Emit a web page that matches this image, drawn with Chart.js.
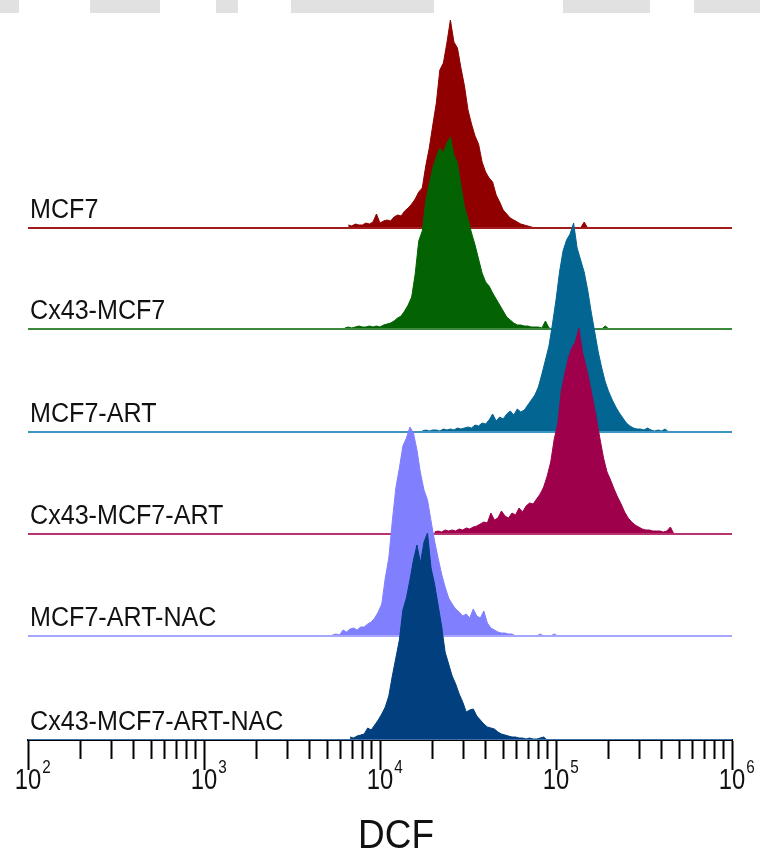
<!DOCTYPE html>
<html>
<head>
<meta charset="utf-8">
<script src="https://cdn.jsdelivr.net/npm/chart.js"></script>
<style>
    html, body { margin: 0; padding: 0; background: #fff; }
    #wrap { position: relative; width: 760px; height: 852px; }
    /* grey watermark strip along the top edge */
    #band {
        position: absolute; left: 0; top: 0; width: 760px; height: 13px;
        background: linear-gradient(to right,
            #e1e1e1 0 19px, #fff 19px 90px, #e1e1e1 90px 160px, #fff 160px 216px,
            #e1e1e1 216px 238px, #fff 238px 291px, #e1e1e1 291px 434px, #fff 434px 563px,
            #e1e1e1 563px 650px, #fff 650px 694px, #e1e1e1 694px 760px);
    }
    canvas { position: absolute; left: 0; top: 0; }
</style>
</head>
<body>
<div id="wrap">
    <div id="band"></div>
    <canvas id="histChart" width="760" height="852"></canvas>
</div>

<script>
    const sampleNames = ['MCF7', 'Cx43-MCF7', 'MCF7-ART', 'Cx43-MCF7-ART', 'MCF7-ART-NAC', 'Cx43-MCF7-ART-NAC'];
    const rowOffsets = [512, 411, 308, 206, 104, 0];   // baseline of each histogram, in count units
    const binStep = 0.02;                                // bin width in decades
    const binStart = [3.82, 3.80, 4.24, 4.31, 3.73, 3.83]; // log10(DCF) of the first bin

    const fillColors = ['#900000', '#036303', '#026592', '#9e004b', '#8080ff', '#013f7e'];
    const lineColors = ['#a31c1c', '#3b8a3b', '#3e95bf', '#b8336f', '#a6a6ff', '#3f6fa8'];

    const countsMCF7 = [3, 2, 4, 3, 3, 5, 4, 6, 14, 5, 7, 8, 7, 11, 13, 12, 17, 20, 24, 29,
        36, 40, 62, 80, 103, 125, 158, 165, 185, 208, 186, 180, 160, 142, 118, 104, 92, 84, 66, 56,
        50, 46, 33, 26, 18, 14, 10, 8, 6, 4, 3, 2, 1, 0, 0, 0, 0, 0, 0, 0,
        0, 0, 0, 0, 0, 0, 0, 6, 0];
    const countsCx43 = [1, 2, 1, 2, 3, 2, 2, 3, 2, 3, 2, 4, 5, 6, 8, 11, 13, 18, 24, 32,
        55, 88, 98, 128, 145, 161, 172, 181, 176, 186, 192, 174, 166, 143, 122, 110, 96, 84, 70, 56,
        47, 43, 36, 30, 24, 18, 12, 9, 6, 4, 4, 3, 3, 2, 2, 2, 1, 8, 1, 0,
        0, 0, 0, 0, 0, 0, 0, 0, 0, 0, 0, 0, 0, 0, 3, 0];
    const countsART = [1, 2, 1, 2, 2, 1, 3, 2, 3, 2, 4, 3, 4, 5, 4, 7, 6, 9, 8, 12,
        18, 11, 15, 13, 18, 21, 17, 23, 20, 22, 27, 32, 37, 45, 58, 72, 86, 108, 132, 160,
        181, 192, 198, 209, 184, 172, 160, 142, 120, 100, 80, 64, 50, 40, 32, 25, 19, 14, 9, 6,
        4, 3, 3, 2, 4, 2, 1, 2, 1, 3, 0];
    const countsCx43ART = [2, 3, 2, 4, 3, 4, 3, 5, 4, 6, 5, 7, 8, 10, 12, 11, 21, 14, 16, 23,
        18, 16, 21, 19, 26, 22, 28, 31, 30, 35, 40, 47, 58, 72, 95, 110, 143, 160, 176, 186,
        192, 206, 182, 168, 152, 134, 115, 95, 76, 62, 54, 45, 37, 30, 22, 16, 12, 9, 7, 5,
        4, 4, 3, 3, 3, 2, 3, 7, 0];
    const countsARTNAC = [1, 2, 1, 6, 4, 7, 8, 6, 9, 9, 12, 14, 18, 24, 32, 58, 78, 115, 148, 168,
        190, 198, 209, 203, 186, 163, 146, 136, 115, 95, 78, 62, 49, 38, 32, 27, 24, 20, 22, 18,
        27, 20, 18, 25, 13, 8, 6, 4, 3, 3, 2, 2, 0, 0, 0, 0, 0, 0, 0, 2,
        0, 0, 0, 2, 0];
    const countsCx43ARTNAC = [3, 2, 4, 5, 6, 12, 10, 15, 20, 26, 33, 44, 64, 82, 100, 130, 142, 160, 180, 195,
        177, 198, 207, 172, 156, 135, 114, 88, 76, 64, 56, 46, 38, 28, 30, 31, 24, 20, 16, 13,
        12, 11, 8, 6, 5, 4, 3, 3, 2, 2, 1, 2, 1, 1, 2, 3, 0];

    const allCounts = [countsMCF7, countsCx43, countsART, countsCx43ART, countsARTNAC, countsCx43ARTNAC];

    const decadeExponents = [2, 3, 4, 5, 6];
    const minorMultipliers = [1, 2, 3, 4, 5, 6, 7, 8, 9];
    const axisTitle = 'DCF';

    const FONT = '"Liberation Sans", Arial, sans-serif';

    function tickValues() {
        const vals = [];
        decadeExponents.forEach(p => {
            if (p === 6) { vals.push(Math.pow(10, p)); return; }
            minorMultipliers.forEach(m => vals.push(m * Math.pow(10, p)));
        });
        return vals;
    }

    function isDecade(v) {
        const l = Math.log10(v);
        return Math.abs(l - Math.round(l)) < 1e-6;
    }

    // the figure uses a slightly condensed face, so squeeze text horizontally
    function narrowText(ctx, text, x, y, size, squeeze, align) {
        ctx.save();
        ctx.font = size + 'px ' + FONT;
        ctx.translate(x, y);
        ctx.scale(squeeze, 1);
        ctx.textAlign = align;
        ctx.fillText(text, 0, 0);
        const w = ctx.measureText(text).width * squeeze;
        ctx.restore();
        return w;
    }

    // row names, 10^n labels and axis title
    const textPlugin = {
        id: 'rowText',
        afterDraw(chart) {
            const ctx = chart.ctx;
            const xs = chart.scales.x, ys = chart.scales.y;
            ctx.save();
            ctx.fillStyle = '#111';
            ctx.textBaseline = 'alphabetic';
            sampleNames.forEach((name, i) => {
                narrowText(ctx, name, 30, ys.getPixelForValue(rowOffsets[i]) - 10, 27, 0.93, 'left');
            });
            decadeExponents.forEach(p => {
                const x = xs.getPixelForValue(Math.pow(10, p));
                const w = narrowText(ctx, '10', x, xs.top + 49, 29, 0.82, 'center');
                narrowText(ctx, String(p), x + w / 2 + 1, xs.top + 33, 18, 0.85, 'left');
            });
            narrowText(ctx, axisTitle, 396, xs.top + 108, 41, 0.9, 'center');
            ctx.restore();
        }
    };

    render_chart()

    function render_chart() {
        const ctx = document.getElementById('histChart').getContext('2d');
        const datasets = [];
        sampleNames.forEach((name, i) => {
            const order = 2 * (sampleNames.length - 1 - i) + 1;
            datasets.push({
                label: name,
                data: allCounts[i].map((c, k) => ({ x: Math.pow(10, binStart[i] + k * binStep), y: rowOffsets[i] + c })),
                borderColor: fillColors[i],
                backgroundColor: fillColors[i],
                borderWidth: 1,
                pointRadius: 0,
                tension: 0,
                fill: { value: rowOffsets[i] },
                order: order
            });
            datasets.push({
                label: name + ' baseline',
                data: [{ x: 100, y: rowOffsets[i] }, { x: 1e6, y: rowOffsets[i] }],
                borderColor: lineColors[i],
                borderWidth: 2,
                pointRadius: 0,
                fill: false,
                order: order - 0.5
            });
        });

        new Chart(ctx, {
            type: 'line',
            data: { datasets: datasets },
            options: {
                responsive: false,
                animation: false,
                events: [],
                layout: { padding: { top: 10, left: 28, right: 28, bottom: 0 } },
                plugins: {
                    legend: { display: false },
                    tooltip: { enabled: false }
                },
                scales: {
                    x: {
                        type: 'logarithmic',
                        min: 100,
                        max: 1e6,
                        afterBuildTicks: scale => { scale.ticks = tickValues().map(v => ({ value: v })); },
                        afterFit: scale => { scale.height = 112; },
                        border: { display: true, color: '#000', width: 2 },
                        grid: {
                            drawOnChartArea: false,
                            drawTicks: true,
                            tickLength: 30,
                            tickWidth: 2,
                            tickColor: '#000',
                            tickBorderDash: c => isDecade(c.tick.value) ? [] : [18, 40]
                        },
                        ticks: { display: false },
                        title: { display: false }
                    },
                    y: {
                        type: 'linear',
                        display: false,
                        min: 0,
                        max: 730
                    }
                }
            },
            plugins: [textPlugin]
        });
    }
</script>
</body>
</html>
